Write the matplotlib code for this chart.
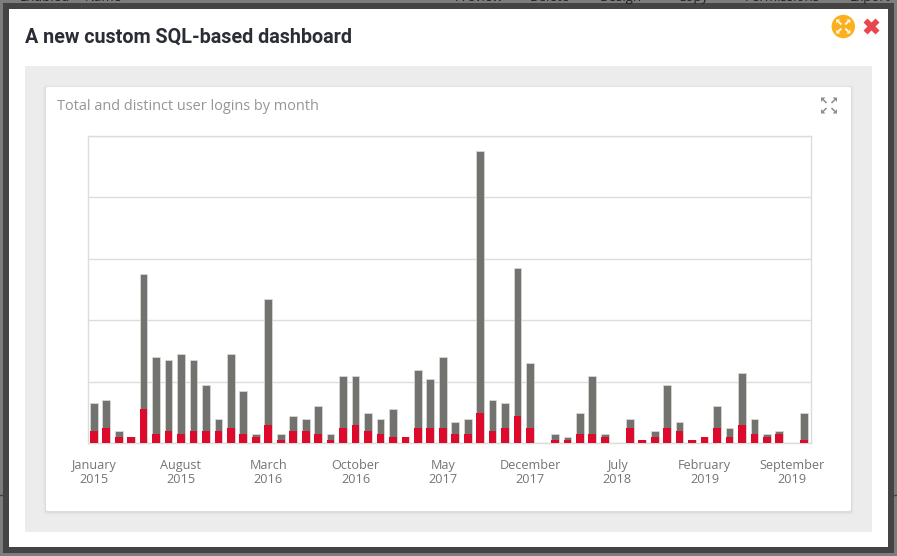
import matplotlib
matplotlib.use('Agg')
import matplotlib.pyplot as plt
from matplotlib.patches import Rectangle, Circle, FancyBboxPatch, Polygon

W, H = 897, 556

# monthly logins, Jan 2015 - Oct 2019
total_logins = [13, 14, 4, 2, 55, 28, 27, 29, 27, 19, 8, 29,
                17, 3, 47, 3, 9, 8, 12, 3, 22, 22, 10, 8,
                11, 2, 24, 21, 28, 7, 8, 95, 14, 13, 57, 26,
                0, 3, 2, 10, 22, 3, 0, 8, 1, 4, 19, 7,
                1, 2, 12, 5, 23, 8, 3, 4, 0, 10]
distinct_logins = [4, 5, 2, 2, 11, 3, 4, 3, 4, 4, 4, 5,
                   3, 2, 6, 1, 4, 4, 3, 1, 5, 6, 4, 3,
                   2, 2, 5, 5, 5, 3, 3, 10, 4, 5, 9, 5,
                   0, 1, 1, 3, 3, 2, 0, 5, 1, 2, 5, 4,
                   1, 2, 5, 2, 6, 3, 2, 3, 0, 1]
tick_months = [0, 7, 14, 21, 28, 35, 42, 49, 56]
tick_labels = ['January\n2015', 'August\n2015', 'March\n2016', 'October\n2016', 'May\n2017',
               'December\n2017', 'July\n2018', 'February\n2019', 'September\n2019']
y_grid = [0, 20, 40, 60, 80, 100]


def draw_expand(ax, cx, cy, half, inner, color, lw):
    """四角向外的展开图标"""
    for sx in (-1, 1):
        for sy in (-1, 1):
            ax.plot([cx + sx * inner, cx + sx * (half - 2)], [cy + sy * inner, cy + sy * (half - 2)],
                    color=color, lw=lw, solid_capstyle='butt')
            head = half * 0.55
            ax.add_patch(Polygon([(cx + sx * half, cy + sy * half),
                                  (cx + sx * (half - head), cy + sy * half),
                                  (cx + sx * half, cy + sy * (half - head))],
                                 fc=color, ec='none'))


fig = plt.figure(figsize=(W / 100, H / 100), dpi=100, facecolor='#7d7d7d')

# 背景层，单位为像素
bg = fig.add_axes([0, 0, 1, 1])
bg.set_xlim(0, W)
bg.set_ylim(H, 0)
bg.axis('off')

# 弹窗后面被遮住的页面
page_text = [(20, 'Enabled'), (85, 'Name'), (455, 'Preview'), (530, 'Delete'), (600, 'Design'),
             (677, 'Copy'), (745, 'Permissions'), (850, 'Export')]
for px, label in page_text:
    bg.text(px, 1, label, fontsize=9.5, color='#222222', family='Open Sans', va='baseline')
bg.plot([0, 3], [495, 495], color='#444444', lw=1)
bg.plot([894, 897], [495, 495], color='#444444', lw=1)

bg.add_patch(Rectangle((3, 3), 891, 550, fc='#444444', ec='none'))
bg.add_patch(Rectangle((9, 9), 879, 538, fc='white', ec='none'))
bg.add_patch(Rectangle((25, 66), 847, 466, fc='#ececec', ec='none'))

# 卡片和阴影
for grow, alpha in [(3, 0.012), (2, 0.018), (1, 0.03)]:
    bg.add_patch(FancyBboxPatch((46 - grow, 87 - grow + 1), 805 + 2 * grow, 424 + 2 * grow,
                                boxstyle='round,pad=0,rounding_size=3', fc='black', ec='none', alpha=alpha))
bg.add_patch(FancyBboxPatch((46, 87), 805, 424, boxstyle='round,pad=0,rounding_size=2', fc='white', ec='none'))

bg.text(25, 37, 'A new custom SQL-based dashboard', fontsize=14.25, fontweight='bold',
        family='Roboto', color='#2b2d36', va='center')
bg.text(57, 107, 'Total and distinct user logins by month', fontsize=10.45,
        family='Open Sans', color='#969696', va='center')

# 右上角图标
bg.add_patch(Circle((843.3, 26.5), 11.7, fc='#fdb01e', ec='none'))
draw_expand(bg, 843.3, 26.5, 7, 2, 'white', 1.3)
bg.plot([871], [26], marker='X', ms=11, mfc='#e8474b', mec='none')
draw_expand(bg, 829, 105.5, 8, 2.5, '#8c8c8c', 1.1)

# 图表
ax = fig.add_axes([88 / W, 1 - 443.3 / H, 723 / W, 307.3 / H])
months = range(len(total_logins))
ax.bar(months, total_logins, width=0.62, color='#72726e', edgecolor='#dcdcda', linewidth=0.5, zorder=3)
ax.bar(months, distinct_logins, width=0.62, color='#dd0a2c', linewidth=0, zorder=4)
ax.set_xlim(-0.46, 57.54)
ax.set_ylim(0, 100)
ax.set_yticks(y_grid)
ax.tick_params(axis='y', length=0, labelleft=False)
ax.set_xticks(tick_months)
ax.set_xticklabels(tick_labels, fontsize=9.1, color='#747474', family='Open Sans', linespacing=1.05)
ax.tick_params(axis='x', length=0, pad=11.5)
ax.grid(True, axis='y', color='#dcdcdc', linewidth=1, zorder=0)
ax.set_axisbelow(True)
for spine in ax.spines.values():
    spine.set_color('#dcdcdc')
    spine.set_linewidth(1)

fig.savefig('out.png', dpi=100, facecolor=fig.get_facecolor())
